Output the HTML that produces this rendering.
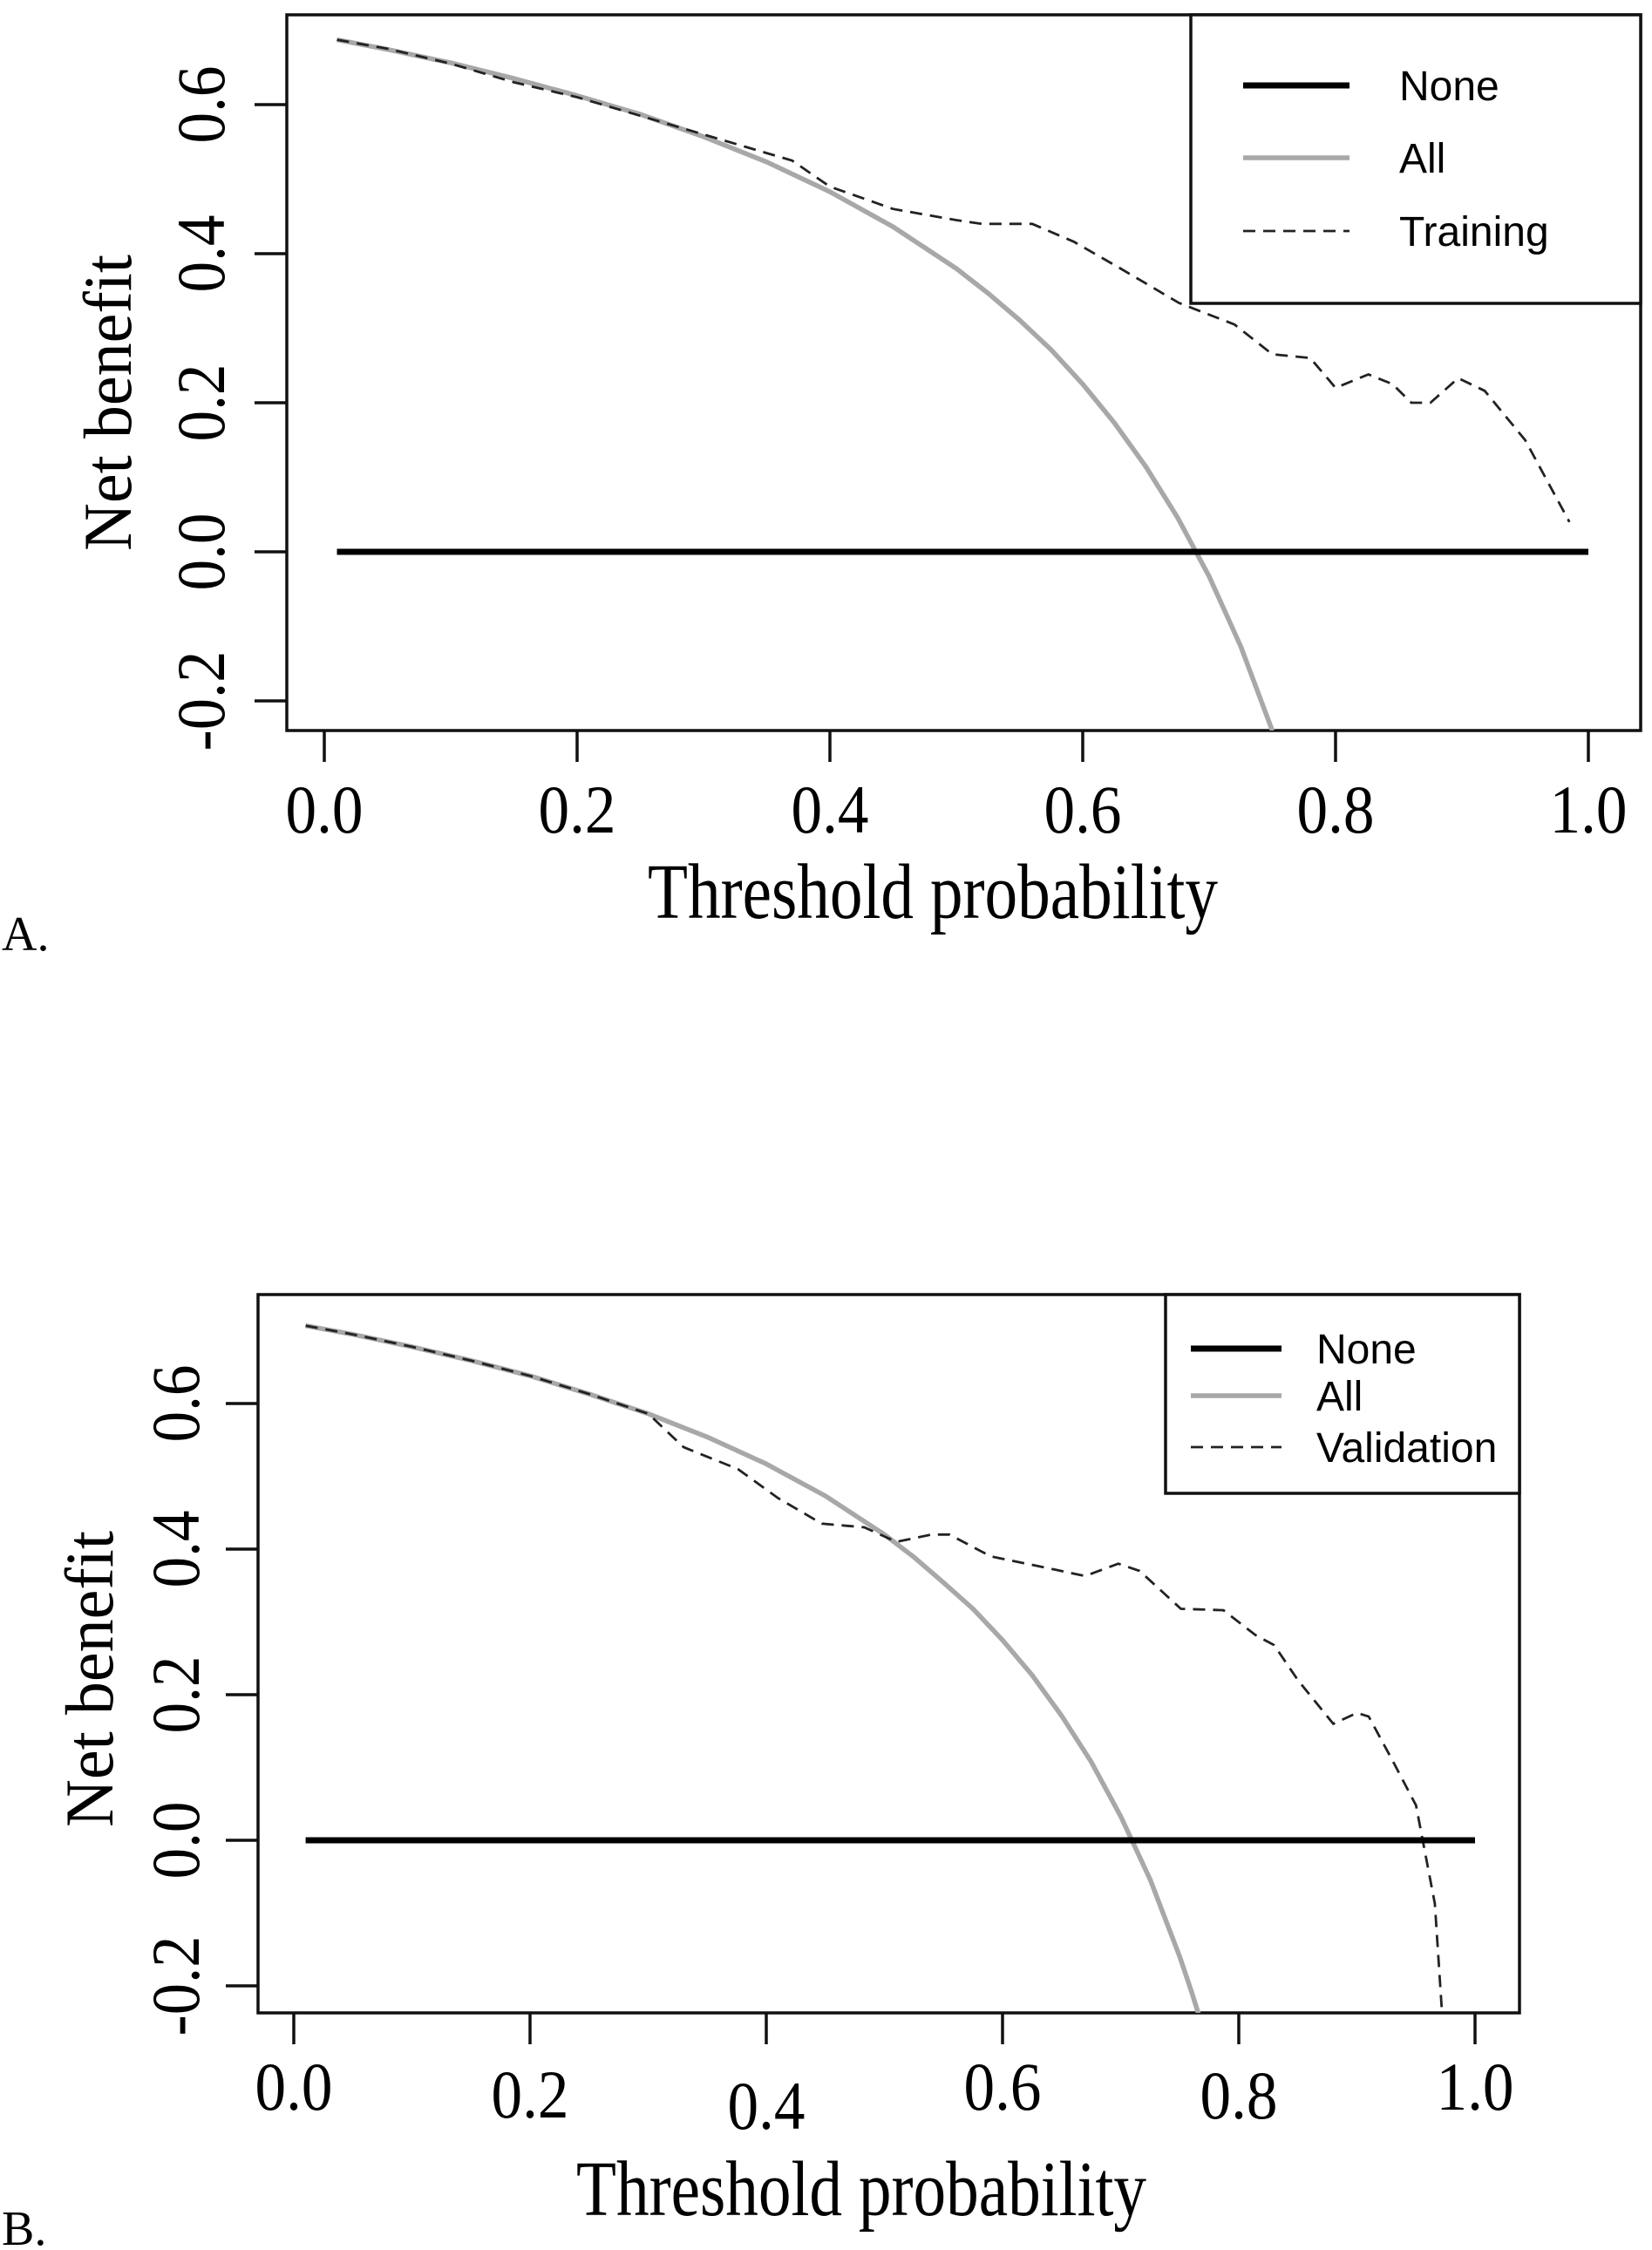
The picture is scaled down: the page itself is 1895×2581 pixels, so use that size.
<!DOCTYPE html>
<html><head><meta charset="utf-8"><style>
html,body{margin:0;padding:0;background:#fff;}
svg{display:block;}
.serif{font-family:"Liberation Serif","Times New Roman",serif;fill:#000;}
.sans{font-family:"Liberation Sans",Arial,sans-serif;fill:#000;}
</style></head><body>
<svg id="fig" width="1895" height="2581" viewBox="0 0 1895 2581" xmlns="http://www.w3.org/2000/svg">
<defs>
<clipPath id="clipA"><rect x="329" y="17" width="1553" height="821"/></clipPath>
<clipPath id="clipB"><rect x="296" y="1485" width="1447" height="824"/></clipPath>
</defs>
<g id="panelA"></g>
<g id="panelB"></g>
</svg>
<script>
// ---- Panel A data ----
const xTicks = [0.0, 0.2, 0.4, 0.6, 0.8, 1.0];
const xTickLabels = ["0.0", "0.2", "0.4", "0.6", "0.8", "1.0"];
const yTicks = [-0.2, 0.0, 0.2, 0.4, 0.6];
const yTickLabels = ["-0.2", "0.0", "0.2", "0.4", "0.6"];
const noneT = [0.01, 1.0];
const noneV = [0, 0];
const allAT = [0.01, 0.05, 0.1, 0.15, 0.2, 0.25, 0.3, 0.35, 0.4, 0.45, 0.5, 0.525, 0.55, 0.575, 0.6, 0.625, 0.65, 0.675, 0.7, 0.725, 0.75];
const allAV = [0.687, 0.674, 0.656, 0.635, 0.612, 0.587, 0.557, 0.523, 0.483, 0.436, 0.38, 0.347, 0.311, 0.271, 0.225, 0.173, 0.114, 0.046, -0.033, -0.127, -0.24];
const trainT = [0.01, 0.05, 0.1, 0.15, 0.2, 0.25, 0.3, 0.35, 0.37, 0.4, 0.45, 0.5, 0.52, 0.56, 0.593, 0.63, 0.676, 0.72, 0.75, 0.78, 0.8, 0.826, 0.845, 0.86, 0.875, 0.897, 0.918, 0.95, 0.985];
const trainV = [0.687, 0.675, 0.655, 0.63, 0.61, 0.585, 0.56, 0.535, 0.525, 0.49, 0.46, 0.445, 0.44, 0.44, 0.416, 0.38, 0.334, 0.305, 0.265, 0.26, 0.22, 0.238, 0.225, 0.20, 0.20, 0.233, 0.216, 0.15, 0.04];
// ---- Panel B data ----
const allBT = [0.01, 0.05, 0.1, 0.15, 0.2, 0.25, 0.3, 0.35, 0.4, 0.45, 0.5, 0.525, 0.55, 0.575, 0.6, 0.625, 0.65, 0.675, 0.7, 0.725, 0.75, 0.76, 0.77];
const allBV = [0.707, 0.695, 0.678, 0.659, 0.638, 0.613, 0.586, 0.554, 0.517, 0.473, 0.42, 0.389, 0.354, 0.318, 0.275, 0.227, 0.171, 0.108, 0.033, -0.054, -0.16, -0.208, -0.26];
const validT = [0.01, 0.05, 0.1, 0.15, 0.2, 0.25, 0.3, 0.304, 0.33, 0.376, 0.41, 0.447, 0.483, 0.51, 0.54, 0.555, 0.59, 0.644, 0.67, 0.698, 0.716, 0.751, 0.787, 0.814, 0.83, 0.85, 0.88, 0.90, 0.91, 0.93, 0.95, 0.966, 0.973];
const validV = [0.707, 0.695, 0.678, 0.659, 0.638, 0.613, 0.586, 0.58, 0.54, 0.51, 0.47, 0.435, 0.43, 0.41, 0.42, 0.42, 0.39, 0.372, 0.363, 0.38, 0.37, 0.318, 0.316, 0.282, 0.268, 0.22, 0.16, 0.175, 0.17, 0.11, 0.048, -0.087, -0.26];

const NS = "http://www.w3.org/2000/svg";
function mk(parent, tag, attrs, text) {
  const el = document.createElementNS(NS, tag);
  for (const k in attrs) el.setAttribute(k, attrs[k]);
  if (text !== undefined) el.textContent = text;
  parent.appendChild(el);
  return el;
}

function drawPanel(g, cfg) {
  const xs = t => cfg.x0 + cfg.xk * t;
  const ys = v => cfg.y0 - cfg.yk * v;
  const pathOf = (T, V) => T.map((t, i) => (i ? "L" : "M") + xs(t).toFixed(1) + "," + ys(V[i]).toFixed(1)).join("");

  const box = mk(g, "rect", {x: cfg.L, y: cfg.T, width: cfg.R - cfg.L, height: cfg.B - cfg.T, fill: "none", stroke: "#111", "stroke-width": 3.5});
  
  

  xTicks.forEach((t, i) => {
    const tk = mk(g, "line", {x1: xs(t), x2: xs(t), y1: cfg.B, y2: cfg.B + 36, stroke: "#111", "stroke-width": 3.5});
    
    
    const lb = mk(g, "text", {x: xs(t), y: cfg.xLabBase[i], "text-anchor": "middle", "font-size": 78, textLength: 89, lengthAdjust: "spacingAndGlyphs", class: "serif"}, xTickLabels[i]);
    
    
  });
  yTicks.forEach((v, i) => {
    const tk = mk(g, "line", {x1: cfg.L - 37, x2: cfg.L, y1: ys(v), y2: ys(v), stroke: "#111", "stroke-width": 3.5});
    
    
    const len = yTickLabels[i].length > 3 ? 115 : 89;
    const lb = mk(g, "text", {x: 0, y: 0, "text-anchor": "middle", "font-size": 78, textLength: len, lengthAdjust: "spacingAndGlyphs", class: "serif", transform: "translate(" + cfg.yLabX + "," + ys(v) + ") rotate(-90)"}, yTickLabels[i]);
    
    
  });
  const yt = mk(g, "text", {x: 0, y: 0, "text-anchor": "middle", "font-size": 78, textLength: 340, lengthAdjust: "spacingAndGlyphs", class: "serif", transform: "translate(" + cfg.yTitleX + "," + cfg.yTitleY + ") rotate(-90)"}, "Net benefit");
  
  
  const xt = mk(g, "text", {x: cfg.xTitleX, y: cfg.xTitleY, "text-anchor": "middle", "font-size": 90, textLength: 654, lengthAdjust: "spacingAndGlyphs", class: "serif"}, "Threshold probability");
  
  
  const pl = mk(g, "text", {x: 2, y: cfg.panelY, "font-size": 56, class: "serif"}, cfg.panel);
  
  

  const sg = mk(g, "g", {"clip-path": "url(#" + cfg.clip + ")"});
  
  
  const allLine = mk(sg, "path", {d: pathOf(cfg.allT, cfg.allV), fill: "none", stroke: "#a8a8a8", "stroke-width": 5.5, "stroke-linejoin": "round"});
  
  
  const modelLine = mk(sg, "path", {d: pathOf(cfg.modT, cfg.modV), fill: "none", stroke: "#222", "stroke-width": 2.8, "stroke-dasharray": "14 9"});
  
  
  const noneLine = mk(sg, "path", {d: pathOf(noneT, noneV), fill: "none", stroke: "#000", "stroke-width": 7});
  
  

  const lg = mk(g, "g", {});
  
  
  const lbx = mk(lg, "rect", {x: cfg.lg.L, y: cfg.T, width: cfg.R - cfg.lg.L, height: cfg.lg.B - cfg.T, fill: "#fff", stroke: "#111", "stroke-width": 3.5});
  
  
  const names = ["None", "All", cfg.modLabel];
  const strokes = [["#000", 7, ""], ["#a8a8a8", 5.5, ""], ["#222", 2.8, "14 9"]];
  names.forEach((n, i) => {
    const ln = mk(lg, "line", {x1: cfg.lg.x1, x2: cfg.lg.x2, y1: cfg.lg.rows[i], y2: cfg.lg.rows[i], stroke: strokes[i][0], "stroke-width": strokes[i][1], "stroke-dasharray": strokes[i][2] || "none"});
    
    
    const tx = mk(lg, "text", {x: cfg.lg.tx, y: cfg.lg.rows[i] + 17, "font-size": 48, class: "sans"}, n);
    
    
  });
}

drawPanel(document.getElementById("panelA"), {
  L: 329, R: 1882, T: 17, B: 838,
  x0: 372, xk: 1450, y0: 633, yk: 855,
  xLabBase: [955, 955, 955, 955, 955, 955],
  yLabX: 257, yTitleX: 150, yTitleY: 462,
  xTitleX: 1070, xTitleY: 1053, panel: "A.", panelY: 1090,
  clip: "clipA",
  allT: allAT, allV: allAV, modT: trainT, modV: trainV, modName: "training", modLabel: "Training",
  lg: {L: 1366, B: 348, x1: 1426, x2: 1548, tx: 1605, rows: [98, 181, 265]}
});
drawPanel(document.getElementById("panelB"), {
  L: 296, R: 1743, T: 1485, B: 2309,
  x0: 337, xk: 1355, y0: 2111, yk: 835,
  xLabBase: [2420, 2429, 2442, 2420, 2430, 2420],
  yLabX: 228, yTitleX: 129, yTitleY: 1926,
  xTitleX: 988, xTitleY: 2541, panel: "B.", panelY: 2575,
  clip: "clipB",
  allT: allBT, allV: allBV, modT: validT, modV: validV, modName: "validation", modLabel: "Validation",
  lg: {L: 1337, B: 1713, x1: 1366, x2: 1470, tx: 1510, rows: [1547, 1601, 1660]}
});
</script>
</body></html>
